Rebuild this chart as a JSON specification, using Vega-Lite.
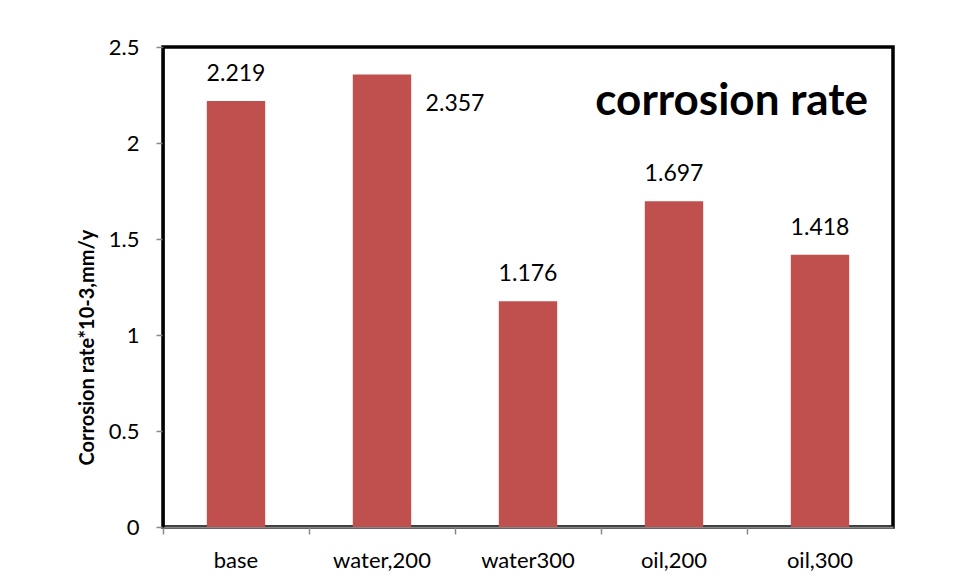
{
  "$schema": "https://vega.github.io/schema/vega-lite/v6.json",
  "width": 730,
  "height": 480,
  "autosize": {"type": "none"},
  "padding": {"left": 163, "top": 47, "right": 66, "bottom": 56},
  "background": "white",
  "config": {
    "font": "Lato",
    "view": {"stroke": "black", "strokeWidth": 3.5}
  },
  "title": {
    "text": "corrosion rate",
    "orient": "top",
    "anchor": "end",
    "frame": "group",
    "font": "Lato",
    "fontSize": 44,
    "fontWeight": "bold",
    "color": "black",
    "baseline": "alphabetic",
    "offset": -123,
    "dx": -25
  },
  "data": {
    "values": [
      {"sample": "base", "rate": 2.219},
      {"sample": "water,200", "rate": 2.357},
      {"sample": "water300", "rate": 1.176},
      {"sample": "oil,200", "rate": 1.697},
      {"sample": "oil,300", "rate": 1.418}
    ]
  },
  "encoding": {
    "x": {
      "field": "sample",
      "type": "nominal",
      "sort": null,
      "scale": {"paddingInner": 0, "paddingOuter": 0},
      "axis": {
        "title": null,
        "labelAngle": 0,
        "labelFontSize": 22,
        "labelColor": "black",
        "labelPadding": 16,
        "bandPosition": 0,
        "tickColor": "#888888",
        "tickSize": 7,
        "tickWidth": 1.5,
        "domainColor": "#888888",
        "domainWidth": 2
      }
    },
    "y": {
      "field": "rate",
      "type": "quantitative",
      "scale": {"domain": [0, 2.5], "nice": false},
      "axis": {
        "title": "Corrosion rate*10-3,mm/y",
        "titleFontSize": 20,
        "titleFontWeight": "bold",
        "titleColor": "black",
        "titleX": -76,
        "titleY": 300,
        "titleAlign": "center",
        "titleBaseline": "middle",
        "titleAngle": 270,
        "values": [0, 0.5, 1, 1.5, 2, 2.5],
        "format": ".1~f",
        "labelFontSize": 22,
        "labelColor": "black",
        "labelPadding": 17,
        "grid": false,
        "tickColor": "#888888",
        "tickSize": 7,
        "tickWidth": 1.5,
        "domainColor": "black",
        "domainWidth": 2
      }
    }
  },
  "layer": [
    {
      "mark": {"type": "bar", "color": "#C0504D", "width": {"band": 0.4}}
    },
    {
      "transform": [{"filter": "datum.sample !== 'water,200'"}],
      "mark": {"type": "text", "fontSize": 23, "color": "black", "baseline": "middle", "dy": -27},
      "encoding": {"text": {"field": "rate", "type": "quantitative", "format": ".3f"}}
    },
    {
      "transform": [{"filter": "datum.sample === 'water,200'"}],
      "mark": {"type": "text", "fontSize": 23, "color": "black", "baseline": "middle", "dx": 73, "dy": 30},
      "encoding": {"text": {"field": "rate", "type": "quantitative", "format": ".3f"}}
    }
  ]
}
